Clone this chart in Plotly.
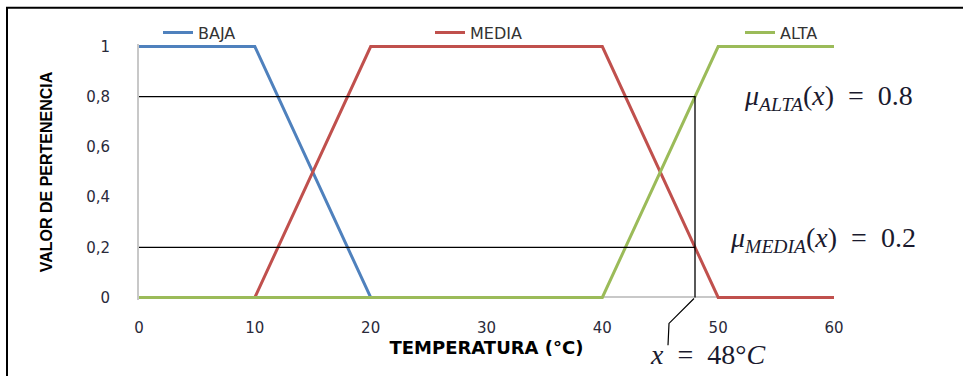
import plotly.graph_objects as go

# ---- data ----
baja_x = [0, 10, 20]
baja_y = [1, 1, 0]
media_x = [0, 10, 20, 40, 50, 60]
media_y = [0, 0, 1, 1, 0, 0]
alta_x = [0, 40, 50, 60]
alta_y = [0, 0, 1, 1]
series_names = ["BAJA", "MEDIA", "ALTA"]
x_eval = 48
mu_alta = 0.8
mu_media = 0.2
y_tickvals = [0, 0.2, 0.4, 0.6, 0.8, 1]
y_ticktext = ["0", "0,2", "0,4", "0,6", "0,8", "1"]
x_tickvals = [0, 10, 20, 30, 40, 50, 60]

W, H = 963, 376
L, R, T, B = 139, 129, 43.5, 75.5
pw, ph = W - L - R, H - T - B


def px(xp):
    return (xp - L) / pw


def py(yp):
    return (H - B - yp) / ph


fig = go.Figure()
colors = ["#4f81bd", "#c0504d", "#9bbb59"]
legends = ["legend", "legend2", "legend3"]
for name, xs, ys, c, lg in zip(series_names, [baja_x, media_x, alta_x],
                               [baja_y, media_y, alta_y], colors, legends):
    fig.add_trace(go.Scatter(x=xs, y=ys, mode="lines", name=name,
                             line=dict(color=c, width=3), legend=lg))

# guide lines at x = 48
fig.add_trace(go.Scatter(
    x=[0, x_eval, x_eval, None, 0, x_eval],
    y=[mu_alta, mu_alta, 0, None, mu_media, mu_media],
    mode="lines", line=dict(color="black", width=1.3), showlegend=False,
    hoverinfo="skip"))

tickfont = dict(family="DejaVu Sans", size=15, color="#2a2a3a")
fig.update_xaxes(range=[0, 60], tickvals=x_tickvals, showgrid=False, zeroline=False,
                 showline=False, ticks="outside", ticklen=14, tickcolor="rgba(0,0,0,0)",
                 tickfont=tickfont,
                 title=dict(text="<b>TEMPERATURA (°C)</b>",
                            font=dict(family="DejaVu Sans", size=18, color="black"),
                            standoff=2))
fig.update_yaxes(range=[-0.01, 1.01], tickvals=y_tickvals, ticktext=y_ticktext,
                 showgrid=False, zeroline=True, zerolinecolor="#c8c8c8", zerolinewidth=2,
                 showline=True, linecolor="#c8c8c8", linewidth=2,
                 ticks="outside", ticklen=24, tickcolor="rgba(0,0,0,0)",
                 tickfont=tickfont,
                 title=dict(text="<b>VALOR DE PERTENENCIA</b>",
                            font=dict(family="Liberation Sans", size=16, color="black"),
                            standoff=30))

legfont = dict(family="DejaVu Sans", size=16, color="#333333")
leg_x = [px(158), px(430), px(740)]
fig.update_layout(
    width=W, height=H,
    margin=dict(l=L, r=R, t=T, b=B, autoexpand=False),
    paper_bgcolor="white", plot_bgcolor="white",
    legend=dict(x=leg_x[0], y=py(32), xanchor="left", yanchor="middle", font=legfont,
                bgcolor="rgba(0,0,0,0)"),
    legend2=dict(x=leg_x[1], y=py(32), xanchor="left", yanchor="middle", font=legfont,
                 bgcolor="rgba(0,0,0,0)"),
    legend3=dict(x=leg_x[2], y=py(32), xanchor="left", yanchor="middle", font=legfont,
                 bgcolor="rgba(0,0,0,0)"),
)

mathfont = dict(family="Liberation Serif", size=28, color="#1a1a2e")
fig.add_annotation(xref="paper", yref="paper", x=px(828), y=py(97),
                   xanchor="center", yanchor="middle",
                   text="<i>μ</i><sub><i>ALTA</i></sub>(<i>x</i>)  =  0.8",
                   showarrow=False, font=mathfont)
fig.add_annotation(xref="paper", yref="paper", x=px(823), y=py(240),
                   xanchor="center", yanchor="middle",
                   text="<i>μ</i><sub><i>MEDIA</i></sub>(<i>x</i>)  =  0.2",
                   showarrow=False, font=mathfont)
fig.add_annotation(xref="paper", yref="paper", x=px(707), y=py(355),
                   xanchor="center", yanchor="middle",
                   text="<i>x</i>  =  48°<i>C</i>",
                   showarrow=False, font=mathfont)

# leader line from x=48 on axis to label
fig.add_shape(type="path", xref="paper", yref="paper",
              path=f"M {px(694)} {py(299)} L {px(669)} {py(324)} L {px(668)} {py(346)}",
              line=dict(color="black", width=1.2))

# outer frame
fig.add_shape(type="rect", xref="paper", yref="paper",
              x0=px(7), y0=py(390), x1=px(975), y1=py(7),
              line=dict(color="black", width=2), fillcolor="rgba(0,0,0,0)", layer="below")

fig.write_html("out.html", config={"displayModeBar": False},
               post_script="document.body.style.margin='0';")
